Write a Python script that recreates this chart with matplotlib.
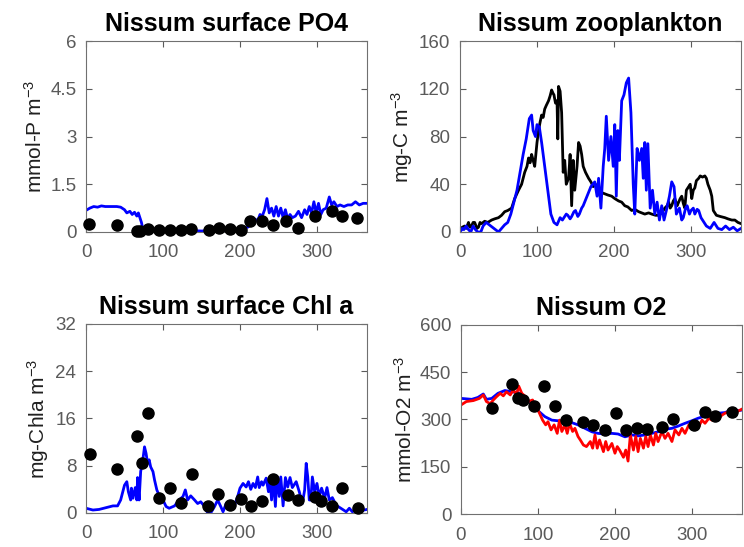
import matplotlib.pyplot as plt

plt.rcParams['font.family'] = ['Liberation Sans', 'DejaVu Sans']
plt.rcParams['mathtext.default'] = 'regular'

# ---- Nissum surface PO4 ----
po4_mod_day = [0, 5, 10, 15, 20, 25, 30, 40, 45, 50, 53, 57, 60, 63, 66, 68, 70, 72, 74,
               80, 85, 95, 110, 130, 150, 170, 190, 200, 205, 210, 215, 220, 223, 226,
               229, 232, 235, 238, 241, 244, 247, 250, 253, 256, 259, 262, 265, 268, 272,
               276, 280, 284, 287, 290, 293, 296, 299, 302, 305, 308, 312, 316, 319, 322,
               326, 330, 335, 340, 345, 350, 355, 360, 365]
po4_mod = [0.68, 0.75, 0.8, 0.78, 0.82, 0.8, 0.8, 0.8, 0.78, 0.7, 0.6, 0.65, 0.55, 0.62,
           0.5, 0.6, 0.45, 0.3, 0.08, 0.1, 0.05, 0.05, 0.05, 0.05, 0.03, 0.05, 0.05, 0.08,
           0.12, 0.15, 0.25, 0.4, 0.35, 0.55, 0.5, 0.7, 1.05, 0.6, 0.75, 0.5, 0.8, 0.5,
           0.75, 0.45, 0.7, 0.4, 0.55, 0.45, 0.5, 0.65, 0.45, 0.7, 0.55, 0.8, 0.6, 0.95,
           0.6, 0.9, 0.55, 0.7, 0.75, 1.1, 0.85, 0.95, 0.8, 0.85, 0.8, 0.85, 0.85, 0.95,
           0.85, 0.9, 0.9]
po4_obs_day = [4, 40, 66, 70, 81, 95, 109, 124, 137, 160, 173, 187, 201, 213, 228, 243,
               260, 276, 297, 319, 332, 352]
po4_obs = [0.25, 0.22, 0.03, 0.02, 0.1, 0.07, 0.05, 0.05, 0.1, 0.07, 0.14, 0.1, 0.07,
           0.35, 0.33, 0.22, 0.33, 0.12, 0.5, 0.66, 0.5, 0.43]

# ---- Nissum zooplankton ----
zoo_blk_day = [0, 3, 6, 8, 11, 13, 15, 17, 19, 22, 24, 26, 28, 30, 32, 36, 41, 45, 50,
               54, 58, 62, 67, 71, 76, 80, 84, 87, 89, 91, 93, 95, 97, 100, 102, 104, 106,
               108, 110, 112, 115, 117, 119, 121, 122, 124, 126, 127, 128, 130, 132, 134,
               136, 138, 141, 143, 145, 147, 149, 152, 154, 156, 158, 160, 163, 167, 170,
               173, 176, 180, 184, 188, 192, 197, 201, 206, 210, 214, 218, 223, 227, 232,
               236, 240, 245, 249, 254, 258, 262, 266, 269, 271, 273, 275, 277, 279, 282,
               284, 286, 288, 290, 292, 294, 297, 299, 301, 303, 305, 307, 310, 312, 315,
               318, 320, 322, 325, 327, 329, 331, 333, 338, 344, 348, 353, 357, 361, 365]
zoo_blk = [2, 4, 5, 3, 8, 4, 5, 8, 8, 3, 4, 8, 7, 8, 9, 8, 10, 11, 12, 14, 17, 18, 20,
           28, 35, 40, 50, 55, 62, 58, 65, 60, 55, 75, 85, 92, 98, 96, 103, 106, 110,
           114, 119, 116, 115, 108, 110, 78, 122, 118, 100, 50, 60, 40, 45, 65, 22, 60,
           35, 55, 75, 72, 65, 55, 50, 45, 42, 38, 40, 35, 33, 32, 31, 30, 28, 26, 25,
           22, 21, 18, 19, 17, 16, 15, 16, 15, 14, 14, 16, 20, 22, 25, 20, 22, 26, 28,
           22, 25, 28, 30, 24, 20, 35, 38, 40, 28, 35, 37, 43, 45, 47, 46, 47, 45, 40,
           35, 30, 18, 16, 14, 13, 12, 11, 10, 10, 8, 7]
zoo_blu_day = [0, 3, 5, 8, 11, 14, 17, 20, 23, 27, 30, 34, 38, 42, 46, 50, 54, 58, 62,
               66, 70, 74, 78, 82, 86, 90, 93, 95, 98, 100, 103, 106, 110, 114, 118, 122,
               126, 130, 133, 135, 138, 140, 143, 145, 148, 150, 153, 155, 158, 160, 165,
               170, 175, 178, 180, 183, 186, 188, 190, 193, 196, 199, 201, 203, 205, 207,
               210, 213, 216, 219, 222, 225, 227, 230, 233, 236, 238, 240, 242, 244, 247,
               250, 253, 256, 259, 262, 265, 268, 272, 275, 278, 281, 285, 288, 290, 293,
               295, 298, 300, 303, 305, 308, 310, 313, 315, 318, 320, 325, 330, 335, 340,
               345, 350, 355, 360, 365]
zoo_blu = [0, 3, 2, 5, 2, 0, 5, 2, 0, 0, 5, 8, 6, 4, 2, 0, 3, 6, 8, 15, 25, 35, 50, 65,
           78, 95, 98, 85, 80, 90, 88, 75, 55, 35, 15, 8, 6, 12, 10, 12, 15, 14, 11, 13,
           17, 18, 13, 15, 20, 22, 30, 38, 42, 30, 45, 20, 55, 70, 97, 60, 80, 55, 90,
           30, 85, 60, 110, 115, 125, 129, 100, 40, 15, 70, 60, 70, 45, 75, 35, 74, 20,
           35, 15, 25, 10, 22, 10, 18, 30, 42, 38, 15, 20, 10, 12, 20, 22, 15, 18, 20,
           15, 19, 18, 12, 10, 7, 5, 3, 8, 3, 2, 5, 2, 4, 1, 3]

# ---- Nissum surface Chl a ----
chl_mod_day = [0, 9, 17, 26, 35, 41, 45, 50, 53, 55, 58, 59, 61, 64, 66, 67, 69, 71, 74,
               76, 78, 80, 82, 84, 87, 89, 92, 95, 100, 104, 108, 115, 121, 126, 129, 132,
               136, 141, 145, 149, 154, 158, 162, 167, 171, 175, 178, 182, 186, 193, 197,
               200, 204, 208, 211, 214, 217, 220, 223, 225, 228, 230, 234, 237, 239, 241,
               243, 246, 248, 251, 253, 256, 259, 262, 265, 268, 273, 277, 281, 284, 286,
               288, 290, 292, 294, 297, 300, 303, 306, 310, 313, 316, 320, 325, 331, 338,
               342, 346, 352, 357, 361, 365]
chl_mod = [0.8, 0.5, 0.6, 0.9, 1.2, 1.2, 2.2, 4.7, 5.3, 3.6, 2.2, 4.2, 2.5, 4.3, 2.2, 6.0,
           2.2, 7.0, 9.2, 11.2, 10.1, 8.4, 9.0, 7.8, 7.0, 5.6, 3.9, 3.0, 2.2, 1.1, 0.8,
           1.2, 2.2, 2.8, 3.9, 2.2, 2.9, 2.2, 1.6, 1.9, 1.1, 0.0, 0.0, 1.1, 2.2, 1.1, 0.2,
           1.6, 1.1, 1.3, 2.8, 4.2, 5.0, 4.4, 5.3, 4.0, 5.0, 4.3, 6.1, 4.3, 5.3, 4.7, 5.9,
           3.6, 5.9, 2.2, 6.0, 1.1, 6.0, 2.8, 6.1, 1.2, 6.0, 4.4, 6.0, 4.3, 5.3, 3.6, 1.6,
           3.9, 8.4, 6.1, 2.2, 2.2, 6.1, 3.6, 5.0, 2.8, 4.2, 2.5, 4.3, 2.2, 2.6, 1.3, 0.8,
           0.2, 0.8, 0.2, 0.8, 0.2, 0.5, 0.6]
chl_obs_day = [5, 40, 66, 73, 81, 95, 109, 124, 138, 159, 172, 187, 201, 214, 229, 243,
               262, 275, 298, 305, 319, 332, 353]
chl_obs = [10.0, 7.4, 13.0, 8.5, 16.9, 2.5, 4.3, 1.7, 6.6, 1.2, 3.2, 1.3, 2.3, 1.2, 2.1,
           5.7, 3.0, 2.2, 2.7, 2.1, 1.1, 4.3, 0.8]

# ---- Nissum O2 ----
o2_blu_day = [0, 14, 22, 29, 33, 40, 48, 57, 66, 74, 83, 92, 100, 109, 118, 126, 135, 144,
              152, 161, 170, 178, 187, 196, 204, 213, 222, 230, 239, 248, 256, 265, 274,
              282, 291, 300, 308, 317, 326, 334, 343, 351, 360, 365]
o2_blu = [367, 364, 370, 381, 364, 367, 383, 392, 388, 385, 367, 351, 328, 309, 298, 296,
          293, 290, 283, 272, 261, 256, 254, 256, 254, 245, 251, 248, 251, 256, 261, 269,
          272, 279, 288, 296, 304, 311, 314, 320, 322, 330, 328, 330]
o2_red_day = [0, 7, 16, 24, 29, 33, 38, 42, 46, 51, 55, 59, 64, 68, 72, 75, 79, 84, 88,
              93, 97, 101, 106, 110, 113, 117, 121, 125, 128, 131, 135, 138, 141, 145, 148,
              152, 155, 159, 163, 168, 171, 174, 177, 180, 185, 188, 191, 196, 200, 203,
              206, 211, 214, 217, 220, 224, 227, 230, 233, 237, 240, 243, 246, 250, 253,
              256, 261, 265, 269, 274, 278, 283, 287, 291, 296, 300, 304, 309, 313, 317,
              322, 326, 330, 335, 339, 343, 348, 352, 356, 361, 365]
o2_red = [346, 357, 360, 367, 378, 357, 350, 362, 372, 383, 375, 388, 378, 394, 378, 406,
          383, 372, 357, 362, 341, 325, 298, 283, 293, 267, 283, 256, 298, 262, 283, 256,
          288, 262, 272, 246, 235, 219, 214, 230, 209, 251, 209, 235, 198, 230, 203, 224,
          193, 214, 203, 180, 203, 168, 251, 203, 246, 198, 240, 209, 246, 214, 251, 219,
          256, 230, 262, 240, 256, 230, 267, 251, 272, 256, 283, 272, 288, 278, 298, 288,
          304, 298, 309, 304, 314, 320, 325, 330, 322, 328, 333]
o2_obs_day = [40, 66, 74, 81, 95, 108, 122, 137, 158, 171, 187, 201, 214, 228, 242, 261,
              276, 303, 317, 330, 352]
o2_obs = [335, 412, 367, 362, 343, 406, 343, 298, 293, 283, 267, 322, 267, 272, 269, 275,
          300, 283, 325, 311, 325]

grey = '#5a5a5a'
fig = plt.figure(figsize=(7.44, 5.47), dpi=100)

panels = [
    ([0.1156, 0.5759, 0.3777, 0.3490], 'Nissum surface PO4', 'mmol-P m$^{-3}$',
     [0, 1.5, 3, 4.5, 6], ['0', '1.5', '3', '4.5', '6']),
    ([0.6183, 0.5759, 0.3777, 0.3490], 'Nissum zooplankton', 'mg-C m$^{-3}$',
     [0, 40, 80, 120, 160], ['0', '40', '80', '120', '160']),
    ([0.1156, 0.0622, 0.3777, 0.3455], 'Nissum surface Chl a', 'mg-Chla m$^{-3}$',
     [0, 8, 16, 24, 32], ['0', '8', '16', '24', '32']),
    ([0.6196, 0.0603, 0.3777, 0.3456], 'Nissum O2', 'mmol-O2 m$^{-3}$',
     [0, 150, 300, 450, 600], ['0', '150', '300', '450', '600']),
]

axes = []
for rect, title, ylab, yt, ytl in panels:
    ax = fig.add_axes(rect)
    ax.set_xlim(0, 365)
    ax.set_ylim(yt[0], yt[-1])
    ax.set_xticks([0, 100, 200, 300])
    ax.set_yticks(yt)
    ax.set_yticklabels(ytl)
    ax.tick_params(direction='in', top=True, right=True, length=4, width=0.8,
                   colors=grey, labelsize=13.5, pad=7)
    ax.tick_params(axis='x', pad=9)
    for s in ax.spines.values():
        s.set_color('#707070')
        s.set_linewidth(0.8)
    ax.set_title(title, fontsize=18, fontweight='bold', pad=7)
    ax.set_ylabel(ylab, fontsize=15, color='#202020', labelpad=3)
    axes.append(ax)

ax1, ax2, ax3, ax4 = axes

ax1.plot(po4_mod_day, po4_mod, color='#0000FF', lw=2)
ax1.plot(po4_obs_day, po4_obs, 'o', color='black', ms=8, clip_on=False, zorder=3)

ax2.plot(zoo_blk_day, zoo_blk, color='black', lw=2)
ax2.plot(zoo_blu_day, zoo_blu, color='#0000FF', lw=2)

ax3.plot(chl_mod_day, chl_mod, color='#0000FF', lw=2)
ax3.plot(chl_obs_day, chl_obs, 'o', color='black', ms=8, clip_on=False, zorder=3)

ax4.plot(o2_blu_day, o2_blu, color='#0000FF', lw=2)
ax4.plot(o2_red_day, o2_red, color='#FF0000', lw=2)
ax4.plot(o2_obs_day, o2_obs, 'o', color='black', ms=8, zorder=3)

fig.savefig('out.png', dpi=100)
